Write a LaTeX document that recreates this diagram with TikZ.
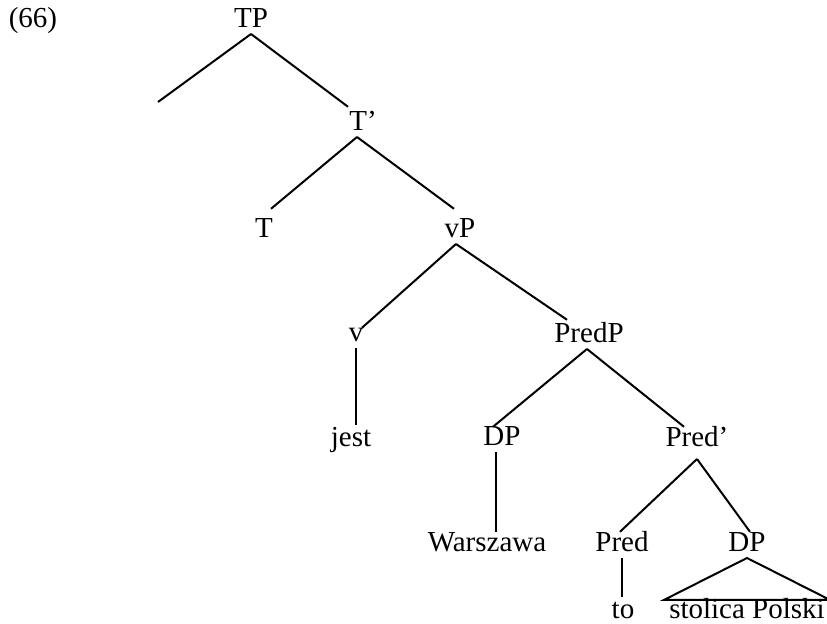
\documentclass[tikz,border=0pt]{standalone}
\usepackage{fontspec}
\setmainfont{Liberation Serif}

\begin{document}
\begin{tikzpicture}
  [
  x=0.5pt, y=-0.5pt,
  font=\fontsize{14.5}{17}\selectfont,
  line width=1pt,
  cat/.style={anchor=base, inner sep=0pt, text height=0.66em, text depth=0.25em},
  leaf/.style={anchor=base, inner ysep=2.5pt, inner xsep=2pt, text height=0.66em, text depth=0pt},
  branch/.style={draw=black},
  unary/.style={draw=black, shorten >=4pt},
  ]
\useasboundingbox (0,0) rectangle (827,624);

\node[anchor=base] (ex) at (33,28) {(66)};

% nodes, row by row
\node[cat] (TP) at (251,28) {TP};
\coordinate (spec) at (158,102);
\node[cat] (Tbar) at (363,131) {T’};
\node[cat] (T) at (264,238) {T};
\node[cat] (vP) at (460,238) {vP};
\node[cat] (v) at (356,342) {v};
\node[cat] (PredP) at (589,343) {PredP};
\node[cat] (jest) at (351,447) {jest};
\node[cat] (DPsubj) at (502,446) {DP};
\node[cat] (Predbar) at (697,447) {Pred’};
\node[cat] (Warszawa) at (487,552) {Warszawa};
\node[cat] (Pred) at (622,552) {Pred};
\node[cat] (DPpred) at (747,552) {DP};
\node[cat] (to) at (623,619) {to};
\node[leaf] (stolica) at (747,619) {stolica Polski};

% branches
\draw[branch] (TP.south) -- (spec);
\draw[branch] (TP.south) -- ([xshift=-7.5pt,yshift=5pt]Tbar.north);
\draw[branch] ([xshift=-3pt]Tbar.south) -- ([xshift=3.5pt,yshift=7.5pt]T.north);
\draw[branch] ([xshift=-3pt]Tbar.south) -- ([xshift=-3pt,yshift=7.5pt]vP.north);
\draw[branch] ([xshift=-2pt]vP.south) -- ([xshift=3pt]v.north);
\draw[branch] ([xshift=-2pt]vP.south) -- ([xshift=-11pt,yshift=4.5pt]PredP.north);
\draw[unary] (v.south) -- (v.south |- jest.north);
\draw[branch] ([xshift=-1pt]PredP.south) -- ([xshift=-4.5pt,yshift=2.5pt]DPsubj.north);
\draw[branch] ([xshift=-1pt]PredP.south) -- ([xshift=-6.5pt,yshift=3pt]Predbar.north);
\draw[unary, shorten >=3pt] ([xshift=-3pt]DPsubj.south) -- ([xshift=-3pt]DPsubj.south |- Warszawa.north);
\draw[branch] ([yshift=-3pt]Predbar.south) -- ([xshift=-1pt,yshift=3pt]Pred.north);
\draw[branch] ([yshift=-3pt]Predbar.south) -- ([xshift=1.5pt,yshift=3pt]DPpred.north);
\draw[unary] (Pred.south) -- (Pred.south |- to.north);
\draw (DPpred.south) -- (stolica.north east) -- (stolica.north west) -- cycle;
\end{tikzpicture}
\end{document}
